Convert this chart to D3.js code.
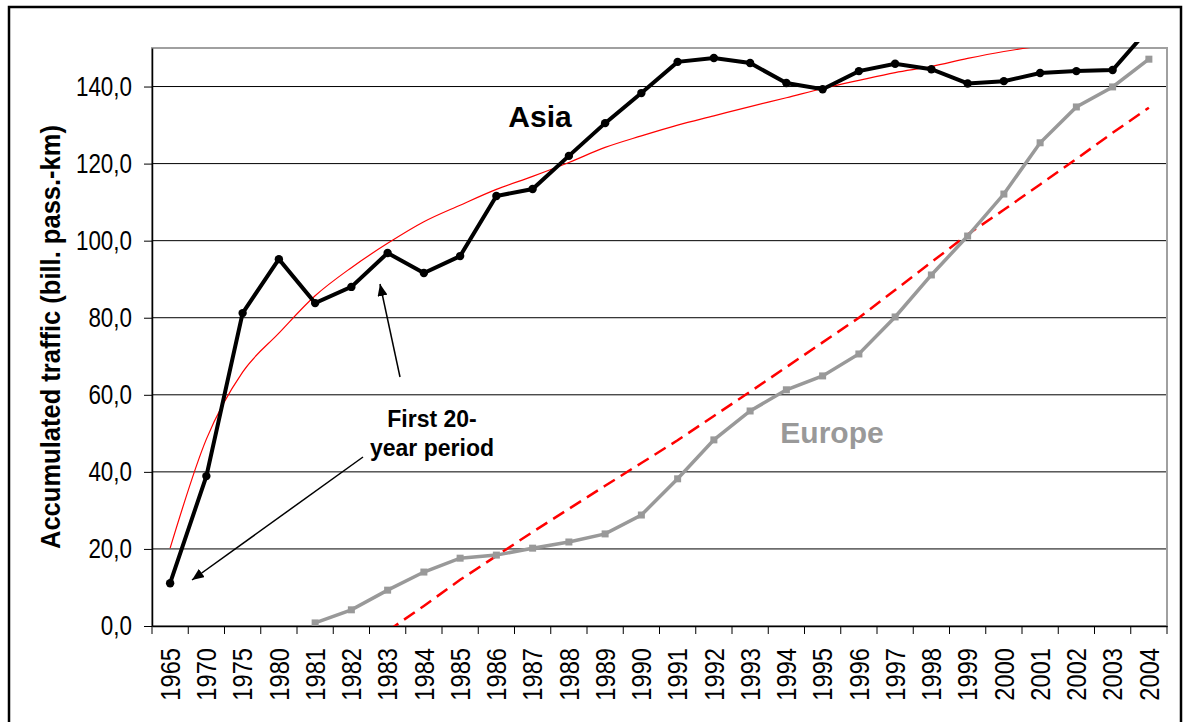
<!DOCTYPE html>
<html>
<head>
<meta charset="utf-8">
<script src="https://cdn.jsdelivr.net/npm/d3@7"></script>
<style>
body { margin: 0; background: #fff; }
svg { font-family: Arial, "Liberation Sans", sans-serif; }
</style>
</head>
<body>
<svg width="1183" height="722"></svg>
<script>
const years = ['1965','1970','1975','1980','1981','1982','1983','1984','1985','1986','1987','1988','1989','1990',
  '1991','1992','1993','1994','1995','1996','1997','1998','1999','2000','2001','2002','2003','2004'];

const asia = [11.1, 38.9, 81.2, 95.2, 83.8, 88.0, 96.8, 91.6, 96.0, 111.6, 113.4, 122.0, 130.5, 138.3,
  146.4, 147.4, 146.1, 140.9, 139.3, 144.0, 145.9, 144.5, 140.8, 141.4, 143.5, 144.0, 144.3, 155.0];

const europe = [null, null, null, null, 0.8, 4.2, 9.3, 14.0, 17.6, 18.4, 20.2, 21.8, 23.9, 28.8,
  38.2, 48.3, 55.8, 61.3, 64.9, 70.6, 80.2, 91.1, 101.2, 112.1, 125.4, 134.7, 139.9, 147.1];

// thin red curve (Asia, first 20 years) and dashed red (Europe)
const asiaTrend = [20.2, 48.5, 65.9, 76.0, 85.7, 93.0, 99.3, 104.9, 109.2, 113.3, 116.7, 120.3, 124.2, 127.2,
  130.0, 132.4, 134.8, 137.1, 139.5, 141.6, 143.6, 145.2, 147.3, 149.1, 150.5, null, null, null];

const europeTrend = [null, null, null, null, null, null, -1.3, 5.2, 12.0, 18.2, 24.4, 30.4, 36.4, 42.3,
  48.2, 54.5, 60.8, 67.2, 73.6, 80.0, 87.2, 94.4, 101.6, 108.0, 114.6, 121.2, 128.0, 134.5];

const yTicks = [0, 20, 40, 60, 80, 100, 120, 140];

const svg = d3.select('svg');
const pLeft = 152, pRight = 1167, pTop = 48, pBottom = 626;

const x = d3.scaleBand().domain(years).range([pLeft, pRight]);
const y = d3.scaleLinear().domain([0, 150]).range([pBottom, pTop]);
const cx = d => x(d) + x.bandwidth() / 2;

// squeeze text horizontally (chart font looks like a narrow face)
function narrow(sel, f) {
  sel.each(function () {
    const w = this.getComputedTextLength();
    d3.select(this).attr('textLength', w * f).attr('lengthAdjust', 'spacingAndGlyphs');
  });
}

// outer frame
svg.append('rect')
  .attr('x', 9).attr('y', 7).attr('width', 1172).attr('height', 740)
  .attr('fill', 'none').attr('stroke', '#000').attr('stroke-width', 2.5);

const defs = svg.append('defs');
defs.append('clipPath').attr('id', 'clip-plot')
  .append('rect').attr('x', pLeft).attr('y', pTop).attr('width', pRight - pLeft).attr('height', pBottom - pTop);
defs.append('clipPath').attr('id', 'clip-top')
  .append('rect').attr('x', pLeft).attr('y', pTop - 6).attr('width', pRight - pLeft).attr('height', pBottom - pTop + 6);
defs.append('marker').attr('id', 'arrow')
  .attr('viewBox', '0 0 12 10').attr('refX', 12).attr('refY', 5)
  .attr('markerWidth', 12).attr('markerHeight', 10)
  .attr('markerUnits', 'userSpaceOnUse').attr('orient', 'auto')
  .append('path').attr('d', 'M0,0L12,5L0,10Z').attr('fill', '#000');

// gridlines
svg.append('g').selectAll('line').data(yTicks.filter(d => d > 0))
  .enter().append('line')
    .attr('x1', pLeft).attr('x2', pRight)
    .attr('y1', d => y(d)).attr('y2', d => y(d))
    .attr('stroke', '#000').attr('stroke-width', 1);

// plot area border
svg.append('rect')
  .attr('x', pLeft).attr('y', pTop).attr('width', pRight - pLeft).attr('height', pBottom - pTop)
  .attr('fill', 'none').attr('stroke', '#a0a0a0').attr('stroke-width', 2);

// y axis
const yAxis = svg.append('g')
  .attr('transform', `translate(${pLeft},0)`)
  .call(d3.axisLeft(y).tickValues(yTicks).tickSize(8).tickSizeOuter(0).tickPadding(12)
    .tickFormat(d => d3.format('.1f')(d).replace('.', ',')));
yAxis.select('.domain').attr('stroke', '#000').attr('stroke-width', 1.5);
yAxis.selectAll('.tick line').attr('stroke', '#000');
yAxis.selectAll('text').attr('font-size', 28).attr('font-family', 'Arial, "Liberation Sans", sans-serif')
  .attr('fill', '#000').call(narrow, 0.8);

// x axis
const xAxis = svg.append('g')
  .attr('transform', `translate(0,${pBottom})`)
  .call(d3.axisBottom(x).tickSize(0).tickSizeOuter(0));
xAxis.select('.domain').attr('stroke', '#000').attr('stroke-width', 1.5);
xAxis.selectAll('text')
  .attr('font-size', 28).attr('font-family', 'Arial, "Liberation Sans", sans-serif').attr('fill', '#000')
  .attr('transform', 'rotate(-90)')
  .attr('x', -22).attr('y', 0).attr('dy', '0.35em')
  .attr('text-anchor', 'end')
  .call(narrow, 0.845);
xAxis.selectAll('line.btick').data(d3.range(years.length + 1))
  .enter().append('line').attr('class', 'btick')
    .attr('x1', i => pLeft + i * x.step()).attr('x2', i => pLeft + i * x.step())
    .attr('y1', 0).attr('y2', 8)
    .attr('stroke', '#000').attr('stroke-width', 1);

// y axis title
svg.append('text')
  .attr('transform', `translate(60,${(pTop + pBottom) / 2}) rotate(-90)`)
  .attr('text-anchor', 'middle')
  .attr('font-size', 28).attr('font-weight', 'bold')
  .attr('textLength', 424).attr('lengthAdjust', 'spacingAndGlyphs')
  .text('Accumulated traffic (bill. pass.-km)');

const toPts = arr => arr.map((v, i) => ({ c: years[i], v }));
const line = d3.line().defined(d => d.v != null).x(d => cx(d.c)).y(d => y(d.v));

// red trend curves
svg.append('path').datum(toPts(asiaTrend))
  .attr('clip-path', 'url(#clip-plot)')
  .attr('d', line.curve(d3.curveMonotoneX))
  .attr('fill', 'none').attr('stroke', '#ff0000').attr('stroke-width', 1.2);
line.curve(d3.curveLinear);

svg.append('path').datum(toPts(europeTrend))
  .attr('clip-path', 'url(#clip-plot)')
  .attr('d', line)
  .attr('fill', 'none').attr('stroke', '#ff0000').attr('stroke-width', 2.5)
  .attr('stroke-dasharray', '13,7');

// Europe series
const eu = svg.append('g').attr('clip-path', 'url(#clip-top)');
eu.append('path').datum(toPts(europe))
  .attr('d', line)
  .attr('fill', 'none').attr('stroke', '#999').attr('stroke-width', 3.5);
eu.selectAll('rect').data(toPts(europe).filter(d => d.v != null))
  .enter().append('rect')
    .attr('x', d => cx(d.c) - 3.5).attr('y', d => y(d.v) - 3.5)
    .attr('width', 7).attr('height', 7)
    .attr('fill', '#999');

// Asia series
const as = svg.append('g').attr('clip-path', 'url(#clip-top)');
as.append('path').datum(toPts(asia))
  .attr('d', line)
  .attr('fill', 'none').attr('stroke', '#000').attr('stroke-width', 4);
as.selectAll('circle').data(toPts(asia))
  .enter().append('circle')
    .attr('cx', d => cx(d.c)).attr('cy', d => y(d.v))
    .attr('r', 4.2).attr('fill', '#000');

// labels
svg.append('text').attr('x', 540).attr('y', 127).attr('text-anchor', 'middle')
  .attr('font-size', 30).attr('font-weight', 'bold').attr('fill', '#000').text('Asia');
svg.append('text').attr('x', 832).attr('y', 443).attr('text-anchor', 'middle')
  .attr('font-size', 30).attr('font-weight', 'bold').attr('fill', '#999').text('Europe');

const note = svg.append('text').attr('text-anchor', 'middle')
  .attr('font-size', 23).attr('font-weight', 'bold').attr('fill', '#000');
note.append('tspan').attr('x', 432).attr('y', 427).text('First 20-');
note.append('tspan').attr('x', 432).attr('y', 456).text('year period');

// arrows
const arrows = [[400, 377, 380, 284], [363, 457, 192, 580]];
svg.selectAll('line.arrow').data(arrows)
  .enter().append('line').attr('class', 'arrow')
    .attr('x1', d => d[0]).attr('y1', d => d[1])
    .attr('x2', d => d[2]).attr('y2', d => d[3])
    .attr('stroke', '#000').attr('stroke-width', 1.5)
    .attr('marker-end', 'url(#arrow)');
</script>
</body>
</html>
